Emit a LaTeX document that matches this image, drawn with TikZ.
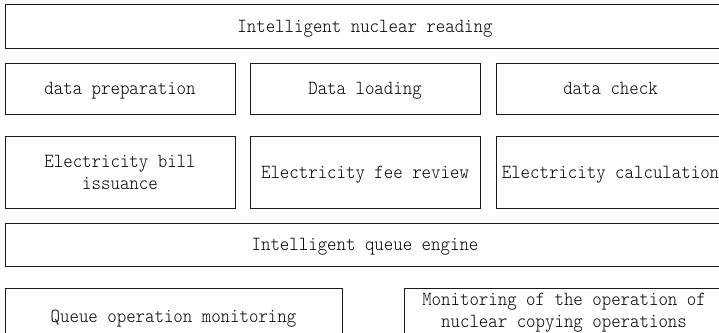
\documentclass[tikz,border=0pt]{standalone}
\usepackage{fontspec}
\setmonofont{Latin Modern Mono Light}[FakeStretch=0.9]
% line struts: 15pt above the baseline, 3pt (or 9pt) below
\newcommand\lnstrut{\rule[-3pt]{0pt}{18pt}}
\newcommand\deepstrut{\rule[-9pt]{0pt}{9pt}}
\begin{document}
\begin{tikzpicture}[x=1pt,y=-1pt,
  box/.style={draw=black!90, line width=0.8pt, rectangle, inner sep=0pt,
    align=center, font=\ttfamily\fontsize{20}{22}\selectfont},
  onebox/.style={box, text height=15pt, text depth=3pt},
]
\useasboundingbox (0,0) rectangle (719,332);
\clip (0,0) rectangle (719,332);

% top layer
\node[onebox, minimum width=720, minimum height=44] (reading) at (365,26.5) {Intelligent nuclear reading};

% data row
\node[onebox, minimum width=230, minimum height=51] (prep)  at (120,88.8)   {data preparation};
\node[onebox, minimum width=230, minimum height=51] (load)  at (365,88.8)   {Data loading};
\node[onebox, minimum width=229, minimum height=51] (check) at (610.5,88.8) {data check};

% electricity row
\node[box, minimum width=230, minimum height=72.7] (bill)   at (120,172.3)   {\lnstrut Electricity bill\\\lnstrut issuance};
\node[onebox, minimum width=230, minimum height=72.7] (review) at (365,172.3)   {Electricity fee review};
\node[onebox, minimum width=229, minimum height=72.7] (calc)   at (610.5,172.3) {Electricity calculation};

% queue engine
\node[onebox, minimum width=720, minimum height=42.7] (engine) at (365,244.7) {Intelligent queue engine};

% monitoring row
\node[onebox, minimum width=337, minimum height=56] (qmon) at (173.5,316.3) {Queue operation monitoring};
\node[box, minimum width=320, minimum height=50] (omon) at (564,313) {\lnstrut Monitoring of the operation of\\\deepstrut nuclear copying operations};
\end{tikzpicture}
\end{document}
